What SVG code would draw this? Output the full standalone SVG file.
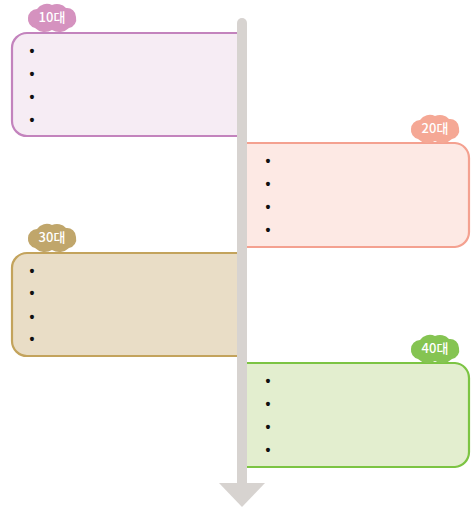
<svg xmlns="http://www.w3.org/2000/svg" width="471" height="510" viewBox="0 0 471 510">
<style>
.box{stroke-width:2.2}
.lbl{font-family:"Noto Sans CJK KR","Liberation Sans",sans-serif;font-size:13px;font-weight:500;fill:#ffffff;text-anchor:middle}
.bul{font-family:"Liberation Sans",sans-serif;font-size:14px;font-weight:bold;fill:#111111;text-anchor:middle}
.shaft{fill:#d7d3d0}
</style>
<defs>
<path id="cloud" d="M -17,11 A 9,9 0 0 1 -24,1 A 9,9 0 0 1 -15,-8 A 12,12 0 0 1 0,-12 A 12,12 0 0 1 14,-9 A 9,9 0 0 1 24,0 A 9,9 0 0 1 17,11 A 14,14 0 0 1 0,13 A 14,14 0 0 1 -17,11 Z"/>
</defs>
<rect width="471" height="510" fill="#ffffff"/>
<g id="node-10">
<path class="box" d="M240,33 H27 A15,15 0 0 0 12,48 V121 A15,15 0 0 0 27,136 H240" fill="#f6ecf4" stroke="#c383bd"/>
<use href="#cloud" x="52" y="17" fill="#d592bf"/>
<text class="lbl" x="52" y="22">10대</text>
<text class="bul" x="32" y="56">•</text>
<text class="bul" x="32" y="79">•</text>
<text class="bul" x="32" y="102">•</text>
<text class="bul" x="32" y="125">•</text>
</g>
<g id="node-20">
<path class="box" d="M245,143 H455 A15,15 0 0 1 469,158 V232 A15,15 0 0 1 455,247 H245" fill="#fde9e4" stroke="#f4a190"/>
<use href="#cloud" x="435" y="128" fill="#f5a895"/>
<text class="lbl" x="435" y="133">20대</text>
<text class="bul" x="268" y="166">•</text>
<text class="bul" x="268" y="189">•</text>
<text class="bul" x="268" y="212">•</text>
<text class="bul" x="268" y="235">•</text>
</g>
<g id="node-30">
<path class="box" d="M240,253 H27 A15,15 0 0 0 12,268 V341 A15,15 0 0 0 27,356 H240" fill="#e9ddc6" stroke="#c3a35c"/>
<use href="#cloud" x="52" y="237" fill="#c0a66b"/>
<text class="lbl" x="52" y="242">30대</text>
<text class="bul" x="32" y="276">•</text>
<text class="bul" x="32" y="298">•</text>
<text class="bul" x="32" y="322">•</text>
<text class="bul" x="32" y="344">•</text>
</g>
<g id="node-40">
<path class="box" d="M245,363 H455 A15,15 0 0 1 469,378 V452 A15,15 0 0 1 455,467 H245" fill="#e3eecf" stroke="#7cc443"/>
<use href="#cloud" x="435" y="348" fill="#85c452"/>
<text class="lbl" x="435" y="353">40대</text>
<text class="bul" x="268" y="386">•</text>
<text class="bul" x="268" y="409">•</text>
<text class="bul" x="268" y="432">•</text>
<text class="bul" x="268" y="455">•</text>
</g>
<g id="connectors">
<path class="shaft" d="M237,484 V23 A5,5 0 0 1 247,23 V484 Z"/>
<polygon class="shaft" points="219,483 265,483 242,507"/>
</g>
</svg>
